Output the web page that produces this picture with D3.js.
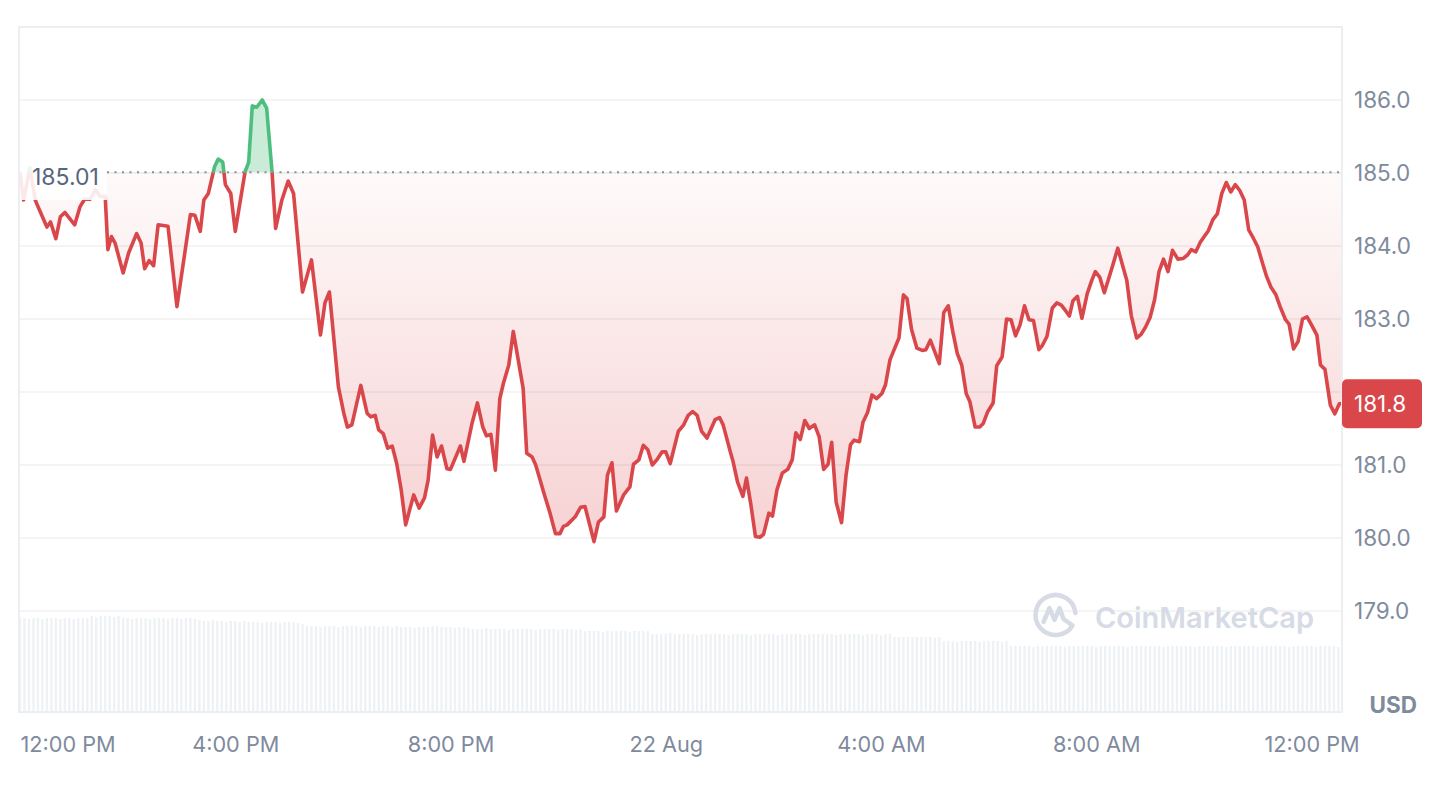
<!DOCTYPE html>
<html>
<head>
<meta charset="utf-8">
<script src="https://cdn.jsdelivr.net/npm/d3@7"></script>
<style>
  body { margin: 0; background: #fff; font-family: Inter, "Noto Sans", sans-serif; }
  svg { display: block; }
</style>
</head>
<body>
<svg id="chart"></svg>
<script>
// price series, minutes after 12:00 PM on 21 Aug
const startTime = new Date(2024, 7, 21, 12, 0)
const endMinute = 1474
const minutes = [
  0,4,11,17,20,30,34,40,45,50,61,67,72,78,84,89,95,98,102,106,
  115,121,130,135,139,144,149,154,165,175,190,195,201,205,210,217,221,226,229,235,
  240,251,255,259,264,270,275,281,285,292,299,305,315,325,335,340,345,355,361,365,
  370,380,387,391,396,400,405,410,415,420,425,430,435,439,445,451,455,460,465,470,
  476,480,491,495,504,510,516,520,525,530,535,539,545,550,561,565,571,575,580,584,
  591,597,602,606,610,619,625,630,640,645,651,655,660,665,673,680,684,690,695,700,
  705,710,716,720,725,734,740,745,750,755,760,766,775,780,784,792,795,800,806,810,
  815,820,825,829,835,839,844,850,856,861,865,870,875,880,886,891,896,901,905,910,
  916,921,926,930,936,940,945,950,955,961,965,970,975,980,985,989,994,1000,1006,1010,
  1015,1020,1025,1030,1035,1040,1045,1050,1055,1059,1065,1070,1074,1079,1085,1089,1095,1100,1105,1110,
  1115,1120,1125,1130,1136,1140,1145,1151,1156,1161,1166,1170,1174,1179,1184,1190,1195,1199,1204,1209,
  1218,1224,1234,1239,1245,1250,1255,1260,1265,1270,1275,1280,1285,1291,1297,1302,1306,1311,1316,1321,
  1325,1330,1335,1340,1345,1350,1355,1360,1365,1370,1375,1380,1385,1390,1395,1400,1405,1411,1415,1420,
  1425,1430,1435,1440,1446,1450,1455,1461,1466,1471,1474
]
const prices = [
  185.01,184.63,185.07,184.63,184.54,184.26,184.33,184.10,184.40,184.46,184.29,184.54,184.64,184.64,184.77,184.68,184.68,183.95,184.13,184.04,
  183.63,183.90,184.17,184.04,183.69,183.80,183.73,184.29,184.27,183.17,184.43,184.42,184.20,184.63,184.72,185.09,185.19,185.15,184.84,184.72,
  184.20,185.02,185.15,185.92,185.90,186.00,185.89,185.02,184.24,184.63,184.89,184.72,183.37,183.81,182.78,183.22,183.37,182.07,181.71,181.52,
  181.55,182.09,181.71,181.66,181.68,181.48,181.43,181.23,181.26,181.02,180.66,180.18,180.41,180.59,180.41,180.55,180.79,181.41,181.11,181.26,
  180.95,180.94,181.26,181.05,181.57,181.85,181.52,181.40,181.42,180.93,181.91,182.12,182.37,182.83,182.05,181.16,181.11,181.00,180.79,180.62,
  180.34,180.06,180.06,180.16,180.18,180.29,180.42,180.43,179.95,180.22,180.29,180.86,181.03,180.37,180.59,180.70,181.01,181.07,181.27,181.21,
  181.00,181.07,181.18,181.18,181.02,181.46,181.55,181.68,181.73,181.68,181.46,181.37,181.62,181.65,181.55,181.18,181.05,180.77,180.57,180.82,
  180.45,180.02,180.01,180.05,180.34,180.30,180.66,180.89,180.94,181.07,181.44,181.35,181.61,181.50,181.55,181.39,180.94,181.01,181.31,180.49,
  180.21,180.86,181.28,181.34,181.32,181.59,181.72,181.96,181.91,181.98,182.10,182.44,182.59,182.74,183.33,183.28,182.86,182.60,182.57,182.58,
  182.71,182.55,182.39,183.09,183.18,182.83,182.53,182.37,181.98,181.87,181.52,181.52,181.57,181.73,181.85,182.36,182.48,183.00,182.99,182.77,
  182.92,183.18,182.99,182.98,182.58,182.64,182.76,183.15,183.22,183.19,183.11,183.04,183.25,183.31,183.01,183.35,183.53,183.65,183.57,183.36,
  183.72,183.97,183.53,183.05,182.74,182.79,182.89,183.02,183.26,183.65,183.82,183.65,183.94,183.82,183.83,183.88,183.95,183.92,184.05,184.14,
  184.21,184.36,184.44,184.72,184.87,184.74,184.84,184.76,184.63,184.22,184.11,183.99,183.78,183.58,183.43,183.34,183.17,182.99,182.93,182.59,
  182.69,183.00,183.03,182.92,182.78,182.37,182.31,181.82,181.70,181.84,181.84
]
// volume, one bar every 5 minutes (relative units)
const volumes = [
  94,94,93,94,94,93,94,94,94,93,94,94,93,94,94,94,96,95,96,96,
  96,95,96,94,94,93,94,94,94,93,94,94,94,93,94,94,93,94,94,93,
  92,91,91,92,91,91,90,91,91,90,91,90,90,90,89,90,90,90,89,90,
  90,90,89,88,86,86,86,85,86,86,86,85,86,86,86,86,85,86,86,86,
  85,86,86,85,86,85,85,85,84,85,85,85,86,86,85,85,85,84,85,85,
  84,83,83,83,84,83,83,83,83,82,83,83,83,83,83,82,83,83,83,83,
  82,83,83,83,82,83,81,81,81,81,80,81,81,81,81,81,80,81,81,81,
  81,78,78,78,78,79,78,78,78,78,78,77,78,78,78,78,78,78,77,78,
  78,78,78,77,78,78,78,78,78,77,78,78,78,78,78,77,78,78,78,78,
  78,78,77,78,78,78,78,78,77,78,78,78,77,78,78,75,75,75,75,75,
  75,75,75,75,74,75,71,71,71,70,71,71,71,71,70,71,71,71,71,70,
  71,66,66,66,66,66,65,66,66,66,66,66,66,65,66,66,66,66,66,66,
  65,66,66,66,66,66,66,65,66,66,66,66,66,66,66,65,66,66,66,66,
  66,66,65,66,66,66,66,66,66,65,66,66,66,66,66,66,65,66,66,66,
  66,66,66,65,66,66,66,66,66,65,66,66,66,66,65
]
const priceTicks = [179, 180, 181, 182, 183, 184, 185, 186]
const currency = "USD"

const width = 1450, height = 796
const plotL = 19, plotR = 1342, plotT = 27, plotB = 712
const red = "#d9474b", green = "#4cbf7e", textGray = "#808a9d"

const svg = d3.select("#chart").attr("width", width).attr("height", height)

const x = d3.scaleTime()
  .domain([startTime, d3.timeMinute.offset(startTime, endMinute)])
  .range([20, plotR])
const y = d3.scaleLinear().domain([179, 186]).range([611, 100])
const yVol = d3.scaleLinear().domain([0, 100]).range([plotB, 612])

const data = minutes.map((m, i) => ({ t: d3.timeMinute.offset(startTime, m), p: prices[i] }))
const base = prices[0]
const yBase = y(base)
const last = prices[prices.length - 1]

const defs = svg.append("defs")
defs.append("clipPath").attr("id", "plot")
  .append("rect").attr("x", plotL).attr("y", plotT).attr("width", plotR - plotL).attr("height", plotB - plotT)
defs.append("clipPath").attr("id", "above")
  .append("rect").attr("x", plotL).attr("y", plotT).attr("width", plotR - plotL).attr("height", yBase - plotT)
defs.append("clipPath").attr("id", "below")
  .append("rect").attr("x", plotL).attr("y", yBase).attr("width", plotR - plotL).attr("height", plotB - yBase)

let grad = defs.append("linearGradient").attr("id", "redFill")
  .attr("gradientUnits", "userSpaceOnUse")
  .attr("x1", 0).attr("x2", 0).attr("y1", yBase).attr("y2", y(179.95))
grad.append("stop").attr("offset", 0).attr("stop-color", "#e0575b").attr("stop-opacity", 0.03)
grad.append("stop").attr("offset", 1).attr("stop-color", "#e0575b").attr("stop-opacity", 0.27)

const plot = svg.append("g").attr("clip-path", "url(#plot)")

// volume bars
plot.append("g").selectAll("rect")
  .data(volumes).enter()
  .append("rect")
  .attr("x", (d, i) => x(d3.timeMinute.offset(startTime, i * 5)) - 1.2)
  .attr("width", 2.4)
  .attr("y", d => yVol(d))
  .attr("height", d => plotB - yVol(d))
  .attr("fill", "#eff2f5")

// areas between price and the opening price
const area = d3.area().x(d => x(d.t)).y0(yBase).y1(d => y(d.p))
plot.append("path").datum(data).attr("d", area)
  .attr("fill", "url(#redFill)").attr("clip-path", "url(#below)")
plot.append("path").datum(data).attr("d", area)
  .attr("fill", "rgb(78,190,125)").attr("fill-opacity", 0.3).attr("clip-path", "url(#above)")

// gridlines
plot.append("g").selectAll("line")
  .data(priceTicks).enter()
  .append("line")
  .attr("x1", plotL).attr("x2", plotR)
  .attr("y1", d => y(d)).attr("y2", d => y(d))
  .attr("stroke", "#000").attr("stroke-opacity", 0.06).attr("stroke-width", 1.5)

// watermark
const wmColor = "#d6dbe5"
const wm = svg.append("g").attr("fill", "none").attr("stroke", wmColor)
const cx = 1055.5, cy = 615
const ring = d3.path()
ring.arc(cx, cy, 20, 0.55, Math.PI * 2 - 0.1)
wm.append("path").attr("d", ring.toString()).attr("stroke-width", 4.5).attr("stroke-linecap", "round")
wm.append("path")
  .attr("d", d3.line()([[cx - 12, cy + 7], [cx - 6, cy - 7], [cx - 1, cy + 5], [cx + 4, cy - 7], [cx + 8, cy + 4], [cx + 15, cy + 9]]))
  .attr("stroke-width", 4.5).attr("stroke-linecap", "round").attr("stroke-linejoin", "round")
svg.append("text").attr("x", 1095).attr("y", 628)
  .attr("font-size", 29).attr("font-weight", 600).attr("fill", wmColor)
  .text("CoinMarketCap")

// dotted opening price line
svg.append("line")
  .attr("x1", 107).attr("x2", plotR)
  .attr("y1", yBase).attr("y2", yBase)
  .attr("stroke", "#8e8e8e").attr("stroke-width", 2).attr("stroke-dasharray", "2,5.5")

// price line, green above the open, red below
const line = d3.line().x(d => x(d.t)).y(d => y(d.p))
plot.append("path").datum(data).attr("d", line)
  .attr("fill", "none").attr("stroke", red).attr("stroke-width", 3.6)
  .attr("stroke-linejoin", "round").attr("clip-path", "url(#below)")
plot.append("path").datum(data).attr("d", line)
  .attr("fill", "none").attr("stroke", green).attr("stroke-width", 3.6)
  .attr("stroke-linejoin", "round").attr("clip-path", "url(#above)")

// opening price label
svg.append("rect").attr("x", 20).attr("y", 160).attr("width", 87).attr("height", 40)
  .attr("fill", "#fff").attr("fill-opacity", 0.88)
svg.append("text").attr("x", 32).attr("y", yBase + 4).attr("dy", "0.36em")
  .attr("font-size", 23).attr("fill", "#58667e")
  .text(d3.format(".2f")(base))

// frame
svg.append("rect").attr("x", plotL).attr("y", plotT).attr("width", plotR - plotL).attr("height", plotB - plotT)
  .attr("fill", "none").attr("stroke", "#eceef1").attr("stroke-width", 2)

// y axis on the right
const yAxis = d3.axisRight(y)
  .tickValues(priceTicks.filter(d => Math.abs(y(d) - y(last)) > 28))
  .tickFormat(d3.format(".1f"))
  .tickSize(0).tickPadding(0)
const gy = svg.append("g").attr("transform", "translate(1354,0)").call(yAxis)
gy.select(".domain").remove()
gy.selectAll("text").attr("font-size", 22.5).attr("font-family", "Inter, sans-serif").attr("fill", textGray)

// current price tag
svg.append("rect").attr("x", plotR).attr("y", y(last) - 24.5).attr("width", 80).attr("height", 49)
  .attr("rx", 5).attr("fill", red)
svg.append("text").attr("x", 1354).attr("y", y(last)).attr("dy", "0.36em")
  .attr("font-size", 22.5).attr("fill", "#fff")
  .text(d3.format(".1f")(last))

svg.append("text").attr("x", 1417).attr("y", 713).attr("text-anchor", "end")
  .attr("font-size", 22.5).attr("font-weight", 700).attr("fill", textGray)
  .text(currency)

// x axis
const fmtDay = d3.timeFormat("%-d %b"), fmtHour = d3.timeFormat("%-I:%M %p")
const xAxis = d3.axisBottom(x)
  .ticks(d3.timeHour.every(4))
  .tickFormat(d => d.getHours() === 0 ? fmtDay(d) : fmtHour(d))
  .tickSize(0).tickPadding(0)
const gx = svg.append("g").attr("transform", "translate(0,752)").call(xAxis)
gx.select(".domain").remove()
gx.selectAll("text").attr("y", 0).attr("dy", 0)
  .attr("font-size", 21.7).attr("font-family", "Inter, sans-serif").attr("fill", textGray)
  .attr("text-anchor", (d, i) => i === 0 ? "start" : "middle")
</script>
</body>
</html>
